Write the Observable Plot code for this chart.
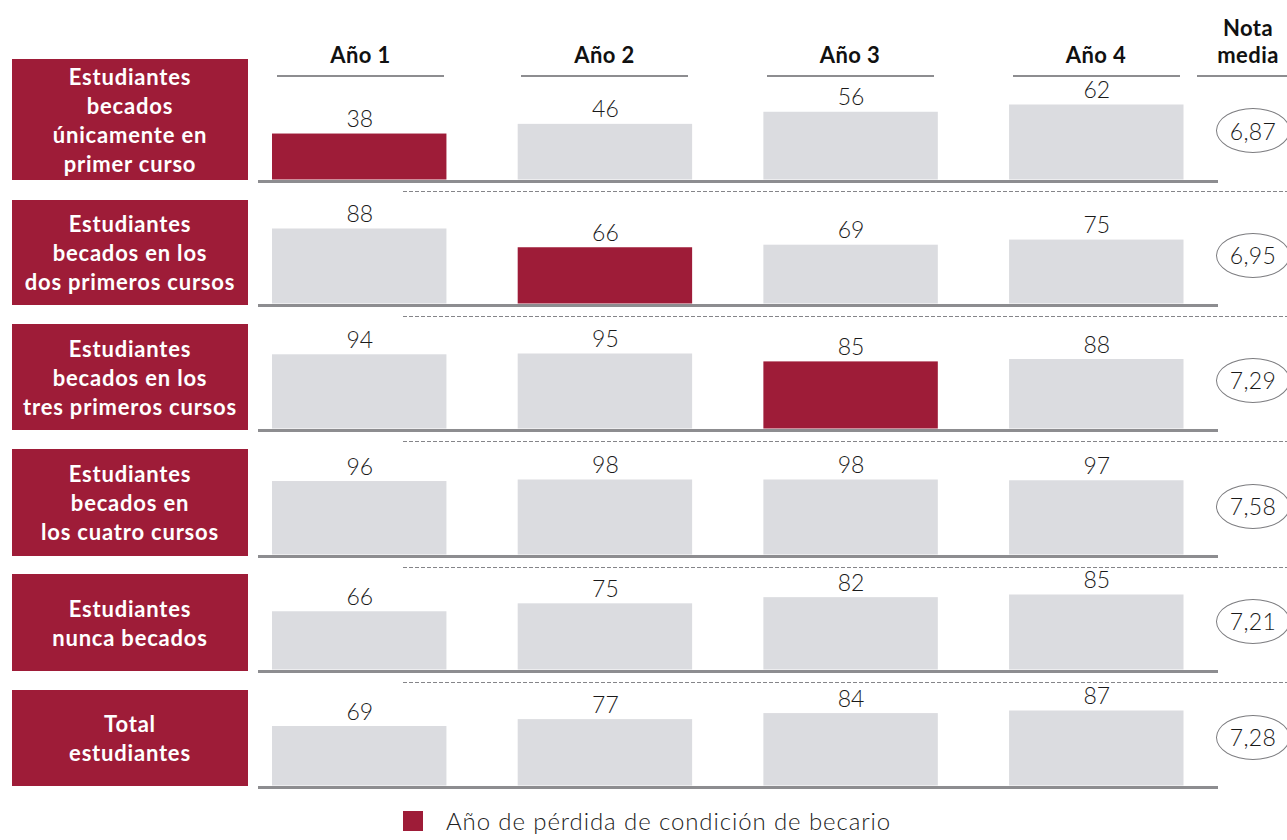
<!DOCTYPE html>
<html>
<head>
<meta charset="utf-8">
<script src="https://cdn.jsdelivr.net/npm/d3@7"></script>
<script src="https://cdn.jsdelivr.net/npm/@observablehq/plot@0.6"></script>
<style>
  html, body { margin: 0; padding: 0; background: #fff; overflow: hidden; }
  #root { position: relative; width: 1287px; height: 840px; font-family: Lato, "Open Sans", sans-serif; color: #1a1a1a; overflow: hidden; }
  .hdr { position: absolute; font-weight: 700; font-size: 22px; letter-spacing: 0.4px; text-align: center; line-height: 27px; color: #111; }
  .hline { position: absolute; height: 2px; background: #8d8d90; }
  .lbl { position: absolute; left: 12px; width: 236px; background: #9e1c38; color: #fff; font-weight: 700; font-size: 22px; letter-spacing: 0.8px; line-height: 29px; text-align: center; display: flex; align-items: center; justify-content: center; box-sizing: border-box; }
  .dash { position: absolute; height: 1px; background: repeating-linear-gradient(to right, #858589 0 4px, transparent 4px 6px); }
  .ell { position: absolute; width: 74px; height: 45px; border: 1.3px solid #7d7d80; border-radius: 50%; box-sizing: border-box; display: flex; align-items: center; justify-content: center; font-size: 23px; font-weight: 300; letter-spacing: 0.3px; color: #1a1a1a; }
  .rowplot { position: absolute; left: 258px; }
  .legend { position: absolute; left: 403px; top: 806px; height: 30px; display: flex; align-items: center; font-size: 24px; line-height: 28px; font-weight: 300; letter-spacing: 0.9px; color: #222; }
  .legend .sw { width: 20px; height: 20px; background: #9e1c38; margin-right: 23px; }
</style>
</head>
<body>
<div id="root"></div>
<script>
// ---- data ----
const years = ["Año 1", "Año 2", "Año 3", "Año 4"];
const rowLabels = [
  "Estudiantes<br>becados<br>únicamente en<br>primer curso",
  "Estudiantes<br>becados en los<br>dos primeros cursos",
  "Estudiantes<br>becados en los<br>tres primeros cursos",
  "Estudiantes<br>becados en<br>los cuatro cursos",
  "Estudiantes<br>nunca becados",
  "Total<br>estudiantes"
];
const row1 = [38, 46, 56, 62];
const row2 = [88, 66, 69, 75];
const row3 = [94, 95, 85, 88];
const row4 = [96, 98, 98, 97];
const row5 = [66, 75, 82, 85];
const row6 = [69, 77, 84, 87];
const lossYear = ["Año 1", "Año 2", "Año 3", null, null, null];
const notaMedia = ["6,87", "6,95", "7,29", "7,58", "7,21", "7,28"];
const notaTitle = "Nota<br>media";
const legendLabel = "Año de pérdida de condición de becario";

const rowValues = [row1, row2, row3, row4, row5, row6];

// ---- layout ----
const RED = "#9e1c38", GRAY = "#dbdce0";
const root = document.getElementById("root");
const baselines = [180.5, 305, 430, 556, 671, 787];
const boxes = [[59, 180], [200, 305], [324, 430], [449, 556], [574, 671], [690, 786]];
const colCenters = [360.5, 604.5, 850, 1096];

function el(cls, css, html) {
  const d = document.createElement("div");
  d.className = cls;
  Object.assign(d.style, css);
  if (html != null) d.innerHTML = html;
  root.appendChild(d);
  return d;
}

// headers
years.forEach((y, i) => {
  el("hdr", {left: (colCenters[i] - 80) + "px", width: "160px", top: "41px"}, y);
  el("hline", {left: (colCenters[i] - 83.5) + "px", width: "167px", top: "75px"});
});
el("hdr", {left: "1198px", width: "100px", top: "14px"}, notaTitle);
el("hline", {left: "1197px", width: "100px", top: "75px"});

// rows
rowValues.forEach((vals, r) => {
  const data = vals.map((v, i) => ({year: years[i], value: v, kind: years[i] === lossYear[r] ? "loss" : "normal"}));
  const base = baselines[r];
  const max = d3.max(vals);
  const plot = Plot.plot({
    width: 960, height: 106,
    marginLeft: 0, marginRight: 0, marginTop: 0, marginBottom: 0,
    style: {fontFamily: "Lato, 'Open Sans', sans-serif", fontSize: "23px", fontWeight: 300, color: "#1a1a1a", background: "transparent", overflow: "visible"},
    x: {domain: years, range: [14, 925.5], paddingInner: 0.29, paddingOuter: 0, round: false, axis: null},
    y: {domain: [0, max], range: [98.5, 23.5], axis: null},
    color: {domain: ["loss", "normal"], range: [RED, GRAY]},
    marks: [
      Plot.barY(data, {x: "year", y: "value", fill: "kind"}),
      Plot.text(data, {x: "year", y: "value", text: d => String(d.value), dy: -7, lineAnchor: "bottom", fontSize: 23, fontWeight: 300, fill: "#1a1a1a"}),
      Plot.ruleY([0], {stroke: "#8d8d90", strokeWidth: 3, dy: 1.5})
    ]
  });
  plot.classList.add("rowplot");
  plot.style.top = (base - 100) + "px";
  root.appendChild(plot);

  const [t, b] = boxes[r];
  el("lbl", {top: t + "px", height: (b - t) + "px"}, rowLabels[r]);
  el("ell", {left: "1216px", top: (base - 50 - 22.5) + "px"}, notaMedia[r]);
  if (r < rowValues.length - 1) {
    el("dash", {left: "403px", width: "884px", top: (base + 10.5) + "px"});
  }
});

// legend
const lg = el("legend", {});
lg.innerHTML = `<div class="sw"></div><span>${legendLabel}</span>`;
</script>
</body>
</html>
